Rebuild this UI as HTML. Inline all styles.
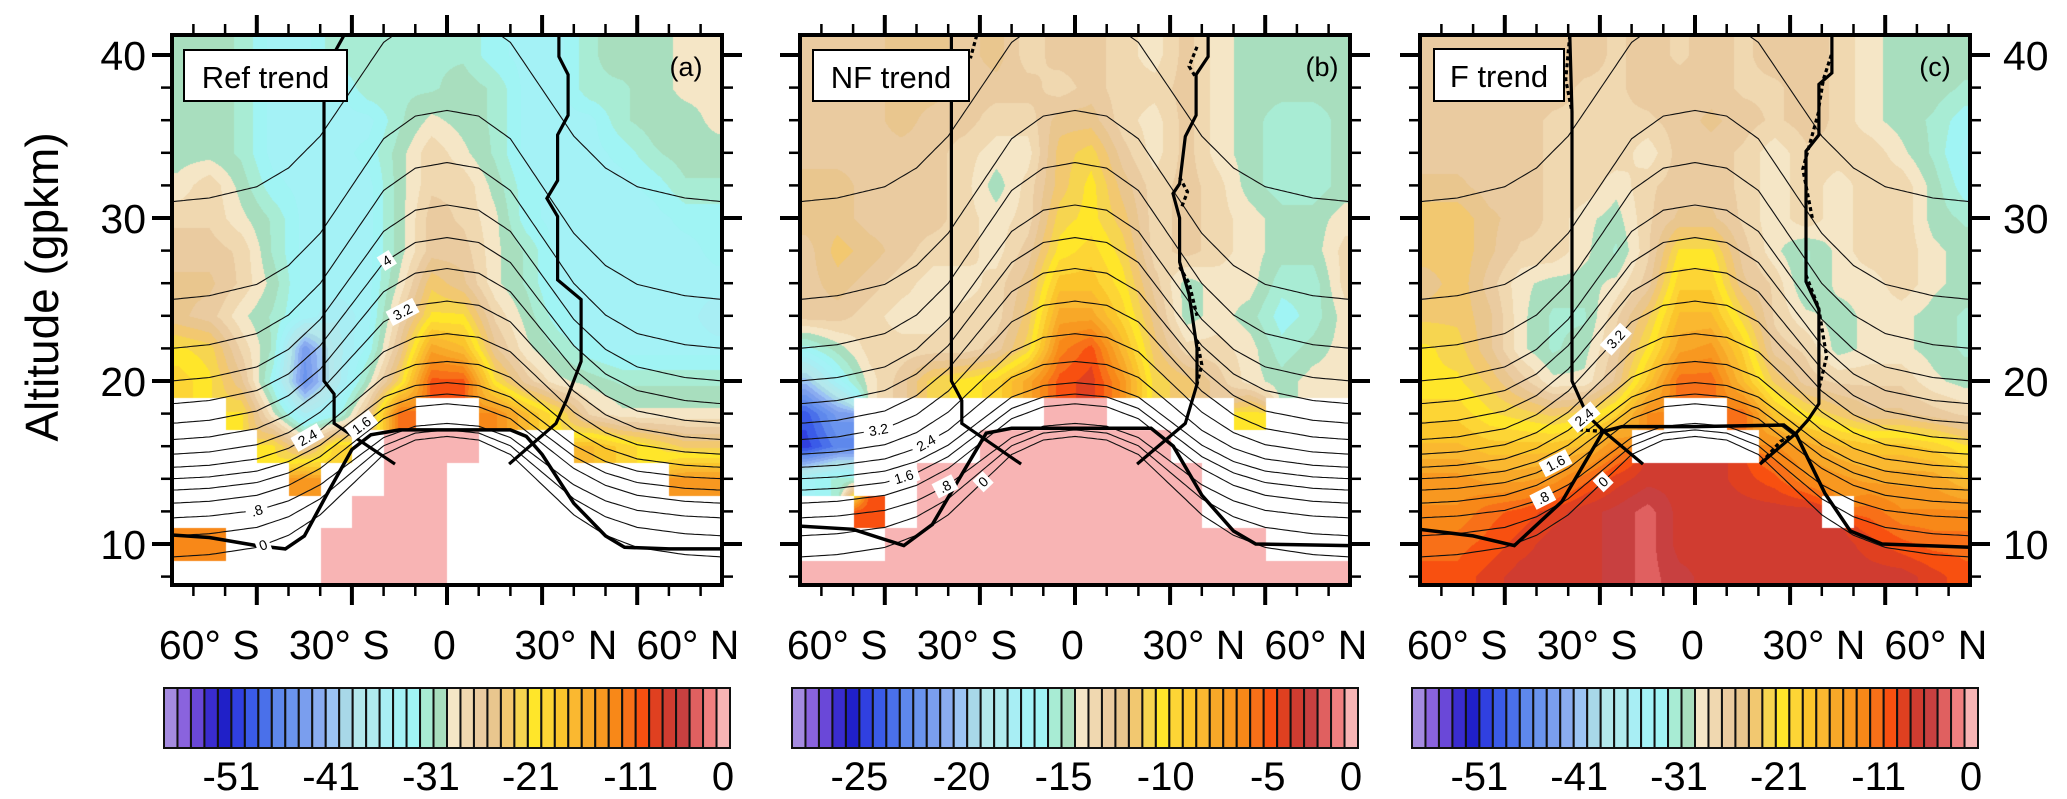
<!DOCTYPE html>
<html><head><meta charset="utf-8"><title>Trend panels</title>
<style>
body{margin:0;width:2067px;height:799px;position:relative;background:#fff;overflow:hidden;font-family:"Liberation Sans",sans-serif}
canvas{position:absolute;top:35px}
svg{position:absolute;left:0;top:0}
</style></head>
<body>
<canvas id="cva" width="550" height="550" style="left:172px"></canvas>
<canvas id="cvb" width="550" height="550" style="left:800px"></canvas>
<canvas id="cvc" width="550" height="550" style="left:1420px"></canvas>
<svg id="ov" width="2067" height="799">
<defs>
<clipPath id="clipa"><rect x="172" y="35" width="550" height="550"/></clipPath>
<clipPath id="clipb"><rect x="800" y="35" width="550" height="550"/></clipPath>
<clipPath id="clipc"><rect x="1420" y="35" width="550" height="550"/></clipPath>
</defs>
<text transform="translate(58,287) rotate(-90)" text-anchor="middle" font-size="46" font-family="Liberation Sans, sans-serif">Altitude (gpkm)</text>
</svg>
<script>
// ---------- data ----------
const LATS=[-85,-75,-65,-55,-45,-35,-25,-15,-5,5,15,25,35,45,55,65,75,85];
const ALTS=[40,38,36,34,32,30,28,26,24,22,20,18,16,14,12,10,8];
const N=null;
const refTrend=[
[-30,-30,-31,-34,-34,-31,-31,-31,-31,-31,-33,-34,-34,-31,-30,-30,-29,-29],
[-30,-30,-31,-34,-34,-34,-31,-31,-31,-30,-31,-34,-34,-31,-31,-30,-29,-29],
[-30,-30,-31,-34,-34,-34,-34,-31,-29,-30,-31,-34,-34,-34,-31,-30,-30,-29],
[-30,-30,-31,-34,-34,-34,-33,-30,-27,-29,-31,-34,-34,-34,-33,-31,-30,-30],
[-29,-27,-30,-33,-34,-34,-34,-30,-27,-27,-30,-33,-34,-34,-34,-33,-31,-31],
[-27,-27,-29,-31,-34,-34,-34,-30,-26,-27,-29,-33,-34,-34,-34,-34,-33,-33],
[-26,-26,-27,-31,-34,-34,-34,-30,-26,-26,-29,-31,-34,-34,-34,-34,-34,-33],
[-25,-25,-27,-30,-34,-34,-34,-29,-23,-25,-29,-31,-34,-34,-34,-34,-34,-34],
[-25,-26,-29,-31,-34,-36,-34,-27,-21,-21,-27,-30,-33,-34,-34,-34,-34,-36],
[-21,-22,-27,-31,-44,-37,-33,-25,-15,-17,-25,-29,-31,-33,-34,-34,-34,-34],
[-19,-21,-25,-33,-45,-37,-30,-22,-10,-10,-21,-26,-29,-30,-31,-31,-31,-31],
[N,N,-21,-29,-36,-33,-25,-11,N,N,-13,-17,-21,-27,-29,-29,-29,-29],
[N,N,N,-21,-26,-19,N,0,0,0,N,N,N,-17,-19,-21,-23,-23],
[N,N,N,N,-14,N,N,0,0,N,N,N,N,N,N,N,-14,-14],
[N,N,N,N,N,N,0,0,0,N,N,N,N,N,N,N,N,N],
[-13,-13,N,N,N,0,0,0,0,N,N,N,N,N,N,N,N,N],
[N,N,N,N,N,0,0,0,0,N,N,N,N,N,N,N,N,N]];
const nfTrend=[
[-12.8,-12.8,-12.8,-12.1,-12.1,-12.8,-12.1,-13.5,-12.8,-12.8,-13.5,-14.1,-12.8,-14.1,-14.8,-14.8,-14.8,-14.8],
[-12.8,-12.8,-12.8,-12.1,-12.1,-12.8,-12.8,-12.8,-13.5,-12.8,-13.5,-13.5,-12.8,-14.1,-14.8,-14.8,-14.8,-14.8],
[-12.8,-12.8,-12.8,-12.1,-12.8,-12.8,-13.5,-13.5,-12.1,-12.1,-13.5,-14.1,-12.8,-14.1,-14.8,-15.5,-15.5,-14.8],
[-12.8,-12.8,-12.8,-12.8,-12.8,-13.5,-14.1,-14.1,-11.5,-10.8,-12.8,-14.1,-12.8,-14.1,-14.8,-15.5,-15.5,-14.8],
[-12.1,-12.1,-12.8,-12.8,-12.8,-13.5,-14.8,-13.5,-11.5,-10.2,-12.1,-13.5,-12.8,-13.5,-14.8,-15.5,-15.5,-14.8],
[-12.1,-12.1,-12.8,-12.8,-12.8,-13.5,-14.1,-13.5,-10.8,-10.2,-11.5,-13.5,-12.8,-13.5,-14.1,-14.8,-14.8,-14.1],
[-12.8,-11.5,-12.1,-12.8,-13.5,-13.5,-14.1,-12.8,-10.2,-9.5,-10.8,-13.5,-12.8,-13.5,-14.1,-14.8,-14.8,-13.5],
[-12.8,-12.1,-12.8,-13.5,-14.1,-14.1,-13.5,-12.1,-8.8,-8.8,-10.2,-12.8,-14.8,-14.1,-14.1,-15.5,-15.5,-13.5],
[-12.8,-12.8,-13.5,-14.1,-14.1,-13.5,-13.5,-11.5,-7.5,-7.5,-9.5,-12.1,-14.8,-14.1,-14.8,-16.1,-15.5,-14.1],
[-16.1,-14.8,-13.5,-13.5,-13.5,-13.5,-12.8,-10.8,-6.2,-4.9,-8.2,-11.5,-13.5,-13.5,-14.1,-15.5,-14.8,-14.1],
[-20.1,-16.8,-14.1,-12.8,-10.8,-10.2,-9.5,-7.5,-4.9,-4.2,-6.8,-10.8,-11.5,-12.8,-14.1,-14.8,-14.1,-14.1],
[-24.0,-21.4,N,N,N,N,N,N,0,0,N,N,N,N,-10.2,N,N,N],
[-24.7,-22.7,N,N,N,N,0,0,0,0,0,0,N,N,N,N,N,N],
[-16.8,-15.5,N,N,0,0,0,0,0,0,0,0,0,N,N,N,N,N],
[N,N,-4.9,N,0,0,0,0,0,0,0,0,0,N,N,N,N,N],
[N,N,N,0,0,0,0,0,0,0,0,0,0,0,0,N,N,N],
[0,0,0,0,0,0,0,0,0,0,0,0,0,0,0,0,0,0]];
const fTrend=[
[-26,-26,-26,-26,-26,-26,-27,-26,-27,-26,-27,-26,-26,-27,-29,-30,-30,-30],
[-26,-26,-26,-26,-26,-27,-27,-26,-26,-26,-27,-27,-26,-27,-29,-30,-30,-31],
[-26,-26,-26,-26,-27,-27,-27,-27,-26,-25,-26,-27,-26,-27,-29,-30,-31,-33],
[-26,-26,-26,-26,-27,-27,-27,-29,-26,-26,-27,-29,-27,-27,-27,-29,-31,-34],
[-25,-25,-26,-26,-27,-27,-29,-27,-26,-26,-27,-29,-27,-29,-27,-27,-30,-33],
[-23,-23,-25,-26,-27,-29,-30,-27,-25,-25,-27,-29,-27,-29,-27,-27,-30,-31],
[-23,-23,-25,-27,-27,-29,-31,-27,-21,-21,-26,-29,-31,-29,-27,-27,-29,-30],
[-25,-23,-26,-29,-30,-30,-29,-26,-19,-19,-25,-27,-31,-29,-29,-27,-29,-30],
[-23,-23,-25,-29,-31,-31,-27,-23,-17,-17,-22,-27,-29,-30,-29,-29,-30,-31],
[-21,-22,-25,-29,-31,-30,-26,-21,-15,-14,-19,-26,-27,-30,-29,-29,-30,-31],
[-21,-21,-23,-26,-29,-29,-25,-18,-11,-11,-17,-23,-26,-27,-27,-27,-29,-30],
[-19,-19,-21,-22,-23,-22,-19,-13,N,N,-11,-18,-21,-23,-25,-25,-26,-27],
[-17,-17,-18,-18,-18,-17,-13,N,N,N,N,-13,-15,-17,-18,-18,-19,-21],
[-14,-14,-15,-15,-14,-11,-8.5,-7,-7,-7,-8.5,-10,-13,-14,-15,-15,-15,-17],
[-13,-13,-11,-10,-8.5,-7,-6,-4.5,-7,-7,-7,-7,-7,N,-11,-13,-13,-13],
[-11,-11,-10,-8.5,-7,-7,-6,-4.5,-7,-7,-7,-7,-7,-7,-8.5,-10,-11,-11],
[-10,-10,-8.5,-7,-7,-7,-6,-4.5,-6,-7,-7,-7,-7,-7,-7,-7,-8.5,-10]];
const PALETTE=["#A58BE0","#8A63DE","#6A48D8","#3A2CD0","#2020C8","#3040E0","#3A5BE8","#4A70EA","#5E88EC","#6A94EE","#7A9EEE","#8AACF0","#9CC4F4","#A8D8E8","#B4E8EC","#B0EAEE","#A8EEF4","#A4F2F6","#A0F4F4","#A8ECD4","#A8DEBE","#F5E6C6","#F0D8B0","#EACBA0","#E9C68E","#F2C870","#F6D550","#FFE62A","#FDD535","#FBC52C","#FAB830","#F8A828","#F89820","#F88818","#F87018","#F85010","#E04020","#D03C30","#C84040","#E06060","#F08080","#F8B4B4"];
const cbTicksA=[-51,-41,-31,-21,-11,0];
const cbTicksB=[-25,-20,-15,-10,-5,0];
const latTicks=["60° S","30° S","0","30° N","60° N"];
const latTickPos=[-75,-34,-0.8,37.5,76]; // label centres (deg)
const altTicks=[10,20,30,40];
// contour (thin lines) field
const contourLevels=["0",".4",".8","1.2","1.6","2","2.4","2.8","3.2","3.6","4","4.4","4.8","5.2","5.6"];
const contourEdge=[9.2,10.5,11.6,12.5,13.3,14.0,14.7,15.5,16.4,17.4,18.6,20.0,22.0,25.0,31.0];
const contourPeak=[16.6,17.0,17.4,18.6,19.2,19.9,21.2,22.9,24.9,26.9,28.8,30.8,33.4,36.6,42.5];
const shapeLat=[-87,-75,-60,-50,-40,-30,-20,-10,0,10,20,30,40,50,60,75,87];
const shapeVal=[0,0.02,0.08,0.18,0.35,0.6,0.85,0.97,1,0.97,0.85,0.6,0.35,0.18,0.08,0.02,0];
// tropopause & boundaries [lat,alt]
const tropA=[[-87,10.55],[-75,10.4],[-60,9.9],[-51,9.7],[-45,10.5],[-38,13],[-30,15.8],[-24,16.7],[-15,17],[0,17],[20,17],[25,16.6],[30,15.5],[40,12.5],[50,10.5],[56,9.8],[70,9.7],[87,9.7]];
const tropB=[[-87,11.1],[-70,10.9],[-54,9.9],[-45,11.2],[-35,14.5],[-28,16.8],[-20,17.1],[0,17.1],[24,17.1],[31,16],[40,13],[50,10.8],[57,10],[87,9.9]];
const tropC=[[-87,10.9],[-70,10.5],[-57,9.9],[-42,12.6],[-29,16.9],[-23,17.2],[0,17.2],[28,17.3],[32,16.7],[41,13.1],[49,10.8],[59,10],[87,9.8]];
const sbA=[[-32.5,41.2],[-38.8,39],[-38.8,20],[-35.6,19.2],[-35.6,17.4],[-16.4,14.9]];
const nbA=[[35.3,41.2],[35.3,39.9],[38.2,38.8],[38.2,36.3],[34.9,35.1],[34.9,32.3],[31.5,31.2],[34.9,30.1],[34.9,26.2],[42.3,25],[42.3,21.2],[37.6,18.8],[34.4,17.4],[19.6,14.9]];
const sbB=[[-39,41.2],[-39,20],[-35.7,18.8],[-35.7,17.4],[-17,14.9]];
const nbB=[[42,41.2],[42,39.9],[38.2,38.8],[38.2,36.3],[34.8,35],[33,32.1],[30.9,31.5],[33,30],[33,27.3],[36,25.3],[38.5,22],[38.5,19.8],[34.8,17.4],[19.6,14.9]];
const sbC=[[-39.5,41.2],[-38.8,36.5],[-38.8,20],[-34,17.9],[-28.7,16.9],[-16.4,14.9]];
const nbC=[[43.2,41.2],[43.2,38.9],[39.1,38.2],[39.1,35.1],[35,34.1],[35,26.1],[39.1,24.4],[39.1,18.6],[35.6,17.6],[31.9,16.8],[20.5,14.9]];
const dashB=[[[-31,41.2],[-33,39.8]],[[38.5,40.5],[36,39.3],[38.2,38.6]],[[33,32.5],[35.5,31.6],[33.5,30.6]],[[33,27],[36,26],[38.5,24]],[[38.5,22.5],[40,21],[38.5,19.8]]];
const dashC=[[[-39.5,41.2],[-40.8,38.5],[-38.8,36.5]],[[-34,17.9],[-36,17],[-28.7,16.9]],[[43,40],[40.5,38.5],[39.1,36.8]],[[39,36.5],[34,33],[37,30]],[[35,26.5],[39,24.5],[41.5,21.5],[39.1,19.5]],[[31.9,16.8],[27,16.3],[20.5,14.9]]];

// ---------- layout ----------
const PANELS=[
 {id:'a',x0:172,cv:'cva',grid:refTrend,vmin:-57.75,step:1.35,trop:tropA,sb:sbA,nb:nbA,dash:[],cb0:164,cbT:cbTicksA,title:'Ref trend',box:[184,50,163,51],tag:'(a)',tagX:686,
  labels:[[10,-19],[8,-14],[6,-44],[4,-27],[2,-60],[0,-58]]},
 {id:'b',x0:800,cv:'cvb',grid:nfTrend,vmin:-28.3,step:0.66,trop:tropB,sb:sbB,nb:nbB,dash:dashB,cb0:792,cbT:cbTicksB,title:'NF trend',box:[813,50,156,51],tag:'(b)',tagX:1322,
  labels:[[8,-62],[6,-47],[4,-54],[2,-41],[0,-29]]},
 {id:'c',x0:1420,cv:'cvc',grid:fTrend,vmin:-57.75,step:1.35,trop:tropC,sb:sbC,nb:nbC,dash:dashC,cb0:1412,cbT:cbTicksA,title:'F trend',box:[1434,49,130,52],tag:'(c)',tagX:1935,
  labels:[[8,-25],[6,-35],[4,-44],[2,-48],[0,-29]]}];
const W=550,TOP=35,BOT=585;
function xS(p,lat){return p.x0+275+lat*3.17;}
function yS(alt){return 544-(alt-10)*16.3;}
function latOf(px){return (px-275)/3.17;}
function altOf(py){return 10-(py+TOP-544)/16.3;}
function hex(c){return [parseInt(c.substr(1,2),16),parseInt(c.substr(3,2),16),parseInt(c.substr(5,2),16)];}
const PAL=PALETTE.map(hex);
function sample(g,lat,alt){
  let fi=Math.max(0,Math.min(17,(lat+85)/10)), fj=Math.max(0,Math.min(16,(40-alt)/2));
  const nv=g[Math.round(fj)][Math.round(fi)];
  if(nv===null) return 'W';
  if(nv>=0) return 'P';
  const i0=Math.floor(fi),j0=Math.floor(fj),i1=Math.min(17,i0+1),j1=Math.min(16,j0+1);
  const di=fi-i0,dj=fj-j0;
  const pts=[[j0,i0,(1-di)*(1-dj)],[j0,i1,di*(1-dj)],[j1,i0,(1-di)*dj],[j1,i1,di*dj]];
  let s=0,w=0;
  for(const [j,i,ww] of pts){const v=g[j][i]; if(v!==null&&v<0){s+=v*ww;w+=ww;}}
  return w>0?s/w:nv;
}
function drawField(p){
  const ctx=document.getElementById(p.cv).getContext('2d');
  const img=ctx.createImageData(W,W);
  for(let py=0;py<W;py++){const alt=altOf(py);
    for(let px=0;px<W;px++){
      const v=sample(p.grid,latOf(px),alt);
      let c;
      if(v==='W') c=[255,255,255];
      else if(v==='P') c=PAL[41];
      else {let k=Math.floor((v-p.vmin)/p.step); k=Math.max(0,Math.min(41,k)); c=PAL[k];}
      const o=(py*W+px)*4; img.data[o]=c[0];img.data[o+1]=c[1];img.data[o+2]=c[2];img.data[o+3]=255;
    }}
  ctx.putImageData(img,0,0);
}
const NS='http://www.w3.org/2000/svg';
const svg=document.getElementById('ov');
function mk(tag,attrs,parent){const e=document.createElementNS(NS,tag);for(const k in attrs)e.setAttribute(k,attrs[k]);(parent||svg).appendChild(e);return e;}
function interpShape(lat){
  for(let k=0;k<shapeLat.length-1;k++){if(lat<=shapeLat[k+1]){const t=(lat-shapeLat[k])/(shapeLat[k+1]-shapeLat[k]);return shapeVal[k]+t*(shapeVal[k+1]-shapeVal[k]);}}
  return 0;
}
function contourAlt(l,lat){return contourEdge[l]+(contourPeak[l]-contourEdge[l])*interpShape(lat);}
function lineD(p,pts){return pts.map((q,i)=>(i?'L':'M')+xS(p,q[0]).toFixed(1)+','+yS(q[1]).toFixed(1)).join(' ');}

PANELS.forEach(p=>{
  drawField(p);
  const g=mk('g',{'clip-path':'url(#clip'+p.id+')'});
  
  
  contourLevels.forEach((nm,l)=>{
    const pts=[];for(let lat=-87;lat<=87;lat+=1)pts.push([lat,contourAlt(l,lat)]);
    const c=mk('path',{d:lineD(p,pts),fill:'none',stroke:'#111','stroke-width':1.1},g);
    
    
  });
  const tp=mk('path',{d:lineD(p,p.trop),fill:'none',stroke:'#000','stroke-width':3.5},g);
  
  
  [p.sb,p.nb].forEach((b,k)=>{
    const e=mk('path',{d:lineD(p,b),fill:'none',stroke:'#000','stroke-width':3.2},g);
    
    
  });
  p.dash.forEach(d=>{
    const e=mk('path',{d:lineD(p,d),fill:'none',stroke:'#000','stroke-width':3.2,'stroke-dasharray':'4 3'},g);
    
    
  });
  p.labels.forEach(([l,lat])=>{
    const a=contourAlt(l,lat),a2=contourAlt(l,lat+1);
    const x=xS(p,lat),y=yS(a),ang=Math.atan2(yS(a2)-y,3.17)*180/Math.PI;
    const lg=mk('g',{transform:'translate('+x.toFixed(1)+','+y.toFixed(1)+') rotate('+ang.toFixed(1)+')'},g);
    
    
    const tw=contourLevels[l].length*8+6;
    mk('rect',{x:-tw/2,y:-8,width:tw,height:16,fill:'#fff'},lg);
    const t=mk('text',{x:0,y:5,'text-anchor':'middle','font-size':14,'font-family':'Liberation Sans, sans-serif'},lg);
    t.textContent=contourLevels[l];
  });
  // frame
  const fr=mk('rect',{x:p.x0,y:TOP,width:W,height:W,fill:'none',stroke:'#000','stroke-width':4});
  
  
  // ticks
  for(let lat=-80;lat<=80;lat+=10){
    const maj=(lat%30===0),L=maj?20:11,x=xS(p,lat);
    const t1=mk('line',{x1:x,x2:x,y1:BOT,y2:BOT+L,stroke:'#000','stroke-width':maj?4:2.5});
    
    
    const t2=mk('line',{x1:x,x2:x,y1:TOP,y2:TOP-L,stroke:'#000','stroke-width':maj?4:2.5});
    
    
  }
  for(let alt=8;alt<=40;alt+=2){
    const maj=(alt%10===0),L=maj?20:11,y=yS(alt);
    const t1=mk('line',{x1:p.x0-L,x2:p.x0,y1:y,y2:y,stroke:'#000','stroke-width':maj?4:2.5});
    
    
    const t2=mk('line',{x1:p.x0+W,x2:p.x0+W+L,y1:y,y2:y,stroke:'#000','stroke-width':maj?4:2.5});
    
    
  }
  latTicks.forEach((s,k)=>{
    const t=mk('text',{x:xS(p,latTickPos[k]),y:659,'text-anchor':'middle','font-size':41,'font-family':'Liberation Sans, sans-serif'});
    
    
    t.textContent=s;
  });
  // title box
  const bg=mk('g',{});
  
  
  mk('rect',{x:p.box[0],y:p.box[1],width:p.box[2],height:p.box[3],fill:'#fff',stroke:'#000','stroke-width':2},bg);
  const tt=mk('text',{x:p.box[0]+p.box[2]/2,y:p.box[1]+38,'text-anchor':'middle','font-size':31,'font-family':'Liberation Sans, sans-serif'},bg);
  tt.textContent=p.title;
  const tg=mk('text',{x:p.tagX,y:76,'text-anchor':'middle','font-size':27,'font-family':'Liberation Sans, sans-serif'});
  
  
  tg.textContent=p.tag;
  // colorbar
  const bw=566/42;
  const cbg=mk('g',{});
  
  
  PALETTE.forEach((c,k)=>{
    const r=mk('rect',{x:p.cb0+k*bw,y:688,width:bw,height:60,fill:c,stroke:'#111','stroke-width':2},cbg);
    
    
  });
  p.cbT.forEach(v=>{
    let x=p.cb0+(v-p.vmin)/p.step*bw; x=Math.min(x,p.cb0+559);
    const t=mk('text',{x:x,y:790,'text-anchor':'middle','font-size':40,'font-family':'Liberation Sans, sans-serif'});
    
    
    t.textContent=String(v);
  });
});
altTicks.forEach(a=>{
  const t=mk('text',{x:146,y:yS(a)+15,'text-anchor':'end','font-size':41,'font-family':'Liberation Sans, sans-serif'});
  
  
  t.textContent=String(a);
  const t2=mk('text',{x:2003,y:yS(a)+15,'text-anchor':'start','font-size':41,'font-family':'Liberation Sans, sans-serif'});
  
  
  t2.textContent=String(a);
});
</script>
</body></html>
